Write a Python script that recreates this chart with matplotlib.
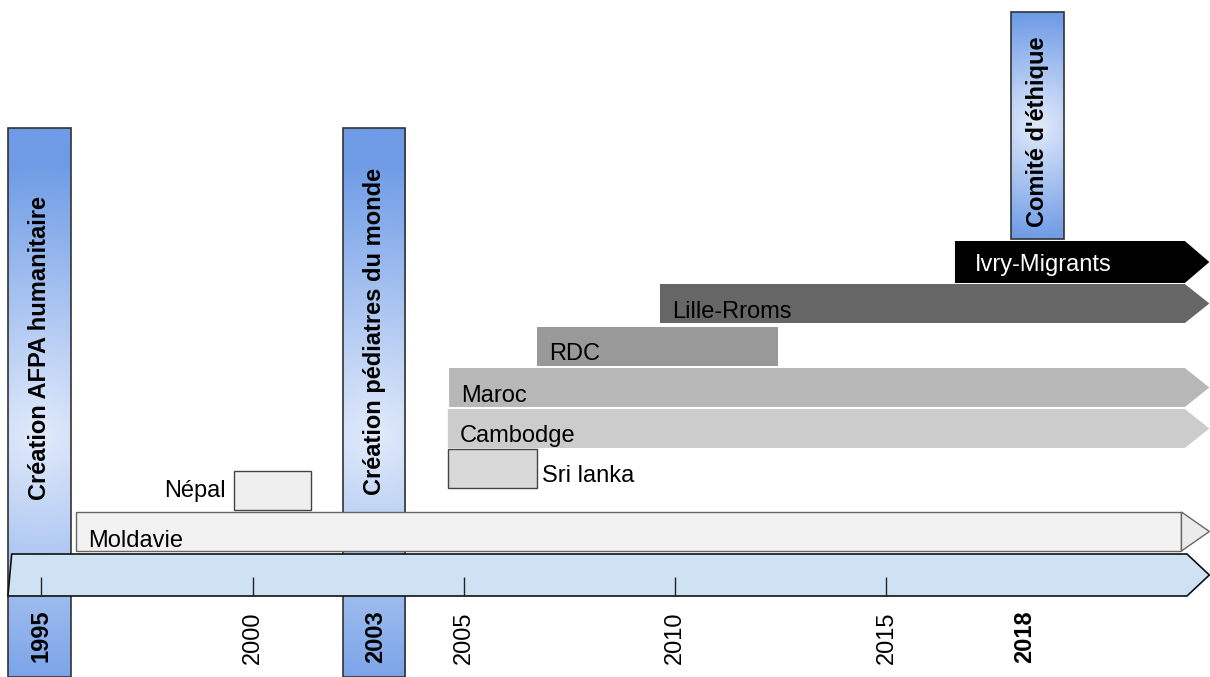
import numpy as np
import matplotlib
matplotlib.use("Agg")
import matplotlib.pyplot as plt
from matplotlib.patches import Rectangle, Polygon

plt.rcParams['font.family'] = ['Liberation Sans', 'DejaVu Sans']

# --- data (years) ---
bar_labels = ['Moldavie', 'Cambodge', 'Maroc', 'RDC', 'Lille-Rroms', 'Ivry-Migrants']
bar_start = [1995.82, 2004.62, 2004.65, 2006.73, 2009.64, 2016.62]
bar_end = [2021.98, 2022.06, 2022.06, 2012.43, 2022.06, 2022.06]
bar_ongoing = [True, True, True, False, True, True]

box_labels = ['Népal', 'Sri lanka']
box_start = [1999.56, 2004.62]
box_end = [2001.38, 2006.73]

event_labels = ['Création AFPA humanitaire', 'Création pédiatres du monde', "Comité d'éthique"]
event_years = ['1995', '2003', '2018']
event_start = [1994.21, 2002.14, 2017.95]
event_end = [1995.70, 2003.61, 2019.20]
event_label_x = [1995.0, 2002.90, 2018.28]

tick_years = [1995, 2000, 2005, 2010, 2015]
minor_labels = ['2000', '2005', '2010', '2015']
minor_label_x = [2000, 2005, 2010, 2015]

timeline_start = 1994.21
timeline_end = 2022.11
arrow_tip = 2022.64

# --- layout (pixel rows, y axis runs downward) ---
PX_PER_YEAR = 42.26
bar_rows = [(512, 551), (409, 448), (368, 407), (327, 366), (284, 323), (241, 283)]
bar_colors = ['#f2f2f2', '#cccccc', '#b7b7b7', '#999999', '#666666', '#000000']
bar_text_colors = ['black', 'black', 'black', 'black', 'black', 'white']
bar_text_base = [547, 442, 402, 360, 318, 271]
bar_text_pad = [0.29, 0.29, 0.29, 0.29, 0.29, 0.47]
box_rows = [(471, 510), (449, 488)]
box_colors = ['#efefef', '#d9d9d9']
event_rows = [(128, 677), (128, 677), (12, 239)]
event_text_bottom = [500, 495, 227]
event_glow = [0.56, 0.56, 0.5]

FS = 17

fig = plt.figure(figsize=(12.1, 6.77), dpi=100)
ax = fig.add_axes([0, 0, 1, 1])
ax.axis('off')

# blue gradient bars for the key events (round glow from the middle)
dark = np.array([0x6e, 0x9b, 0xe6]) / 255
light = np.array([0xe2, 0xeb, 0xfb]) / 255
for i, lab in enumerate(event_labels):
    x0, x1 = event_start[i], event_end[i]
    y0, y1 = event_rows[i]
    h = y1 - y0
    w = (x1 - x0) * PX_PER_YEAR
    xs = np.linspace(-w / 2, w / 2, 60)
    ys = np.linspace(0, h, 300) - event_glow[i] * h
    X, Y = np.meshgrid(xs, ys)
    r = np.clip(np.sqrt(X ** 2 + Y ** 2) / (0.5 * h), 0, 1)
    img = light * (1 - r)[..., None] + dark * r[..., None]
    ax.imshow(img, extent=(x0, x1, y1, y0), origin='upper', aspect='auto', zorder=1,
              interpolation='bilinear')
    ax.add_patch(Rectangle((x0, y0), x1 - x0, h, fill=False, ec='#333333', lw=1.2, zorder=1.1))
    ax.text((x0 + x1) / 2, event_text_bottom[i], lab, rotation=90, ha='center', va='bottom',
            fontsize=FS, fontweight='bold', zorder=5)

# project bars
for i, lab in enumerate(bar_labels):
    x0, x1 = bar_start[i], bar_end[i]
    y0, y1 = bar_rows[i]
    if i == 0:
        ax.add_patch(Rectangle((x0, y0), x1 - x0, y1 - y0, fc=bar_colors[i], ec='#666666', lw=1, zorder=2))
        ax.add_patch(Polygon([(x1, y0), (arrow_tip, (y0 + y1) / 2), (x1, y1)], closed=True,
                             fc='#ebebeb', ec='#666666', lw=1, zorder=2))
    elif bar_ongoing[i]:
        ax.add_patch(Polygon([(x0, y0), (x1, y0), (arrow_tip, (y0 + y1) / 2), (x1, y1), (x0, y1)],
                             closed=True, fc=bar_colors[i], lw=0, zorder=2))
    else:
        ax.add_patch(Rectangle((x0, y0), x1 - x0, y1 - y0, fc=bar_colors[i], lw=0, zorder=2))
    ax.text(x0 + bar_text_pad[i], bar_text_base[i], lab, ha='left', va='baseline',
            fontsize=FS, color=bar_text_colors[i], zorder=5)

# short missions
for i, lab in enumerate(box_labels):
    x0, x1 = box_start[i], box_end[i]
    y0, y1 = box_rows[i]
    ax.add_patch(Rectangle((x0, y0), x1 - x0, y1 - y0, fc=box_colors[i], ec='#444444', lw=1, zorder=2))
ax.text(box_start[0] - 0.19, 497, box_labels[0], ha='right', va='baseline', fontsize=FS, zorder=5)
ax.text(box_end[1] + 0.12, 482, box_labels[1], ha='left', va='baseline', fontsize=FS, zorder=5)

# timeline arrow
ax.add_patch(Polygon([(timeline_start, 596), (timeline_start + 0.09, 554), (timeline_end, 554),
                      (arrow_tip, 575), (timeline_end, 596)], closed=True,
                     fc='#cfe2f3', ec='#111111', lw=1.2, zorder=3))
ax.vlines(tick_years, 577, 596, color='#222222', lw=1, zorder=4)
for x, lab in zip(minor_label_x, minor_labels):
    ax.text(x, 612, lab, rotation=90, ha='center', va='top', fontsize=FS, zorder=5)
for x, lab in zip(event_label_x, event_years):
    ax.text(x, 610, lab, rotation=90, ha='center', va='top', fontsize=FS, fontweight='bold', zorder=5)

ax.set_xlim(1994.023, 2022.655)
ax.set_ylim(677, 0)

fig.savefig('out.png', dpi=100)
